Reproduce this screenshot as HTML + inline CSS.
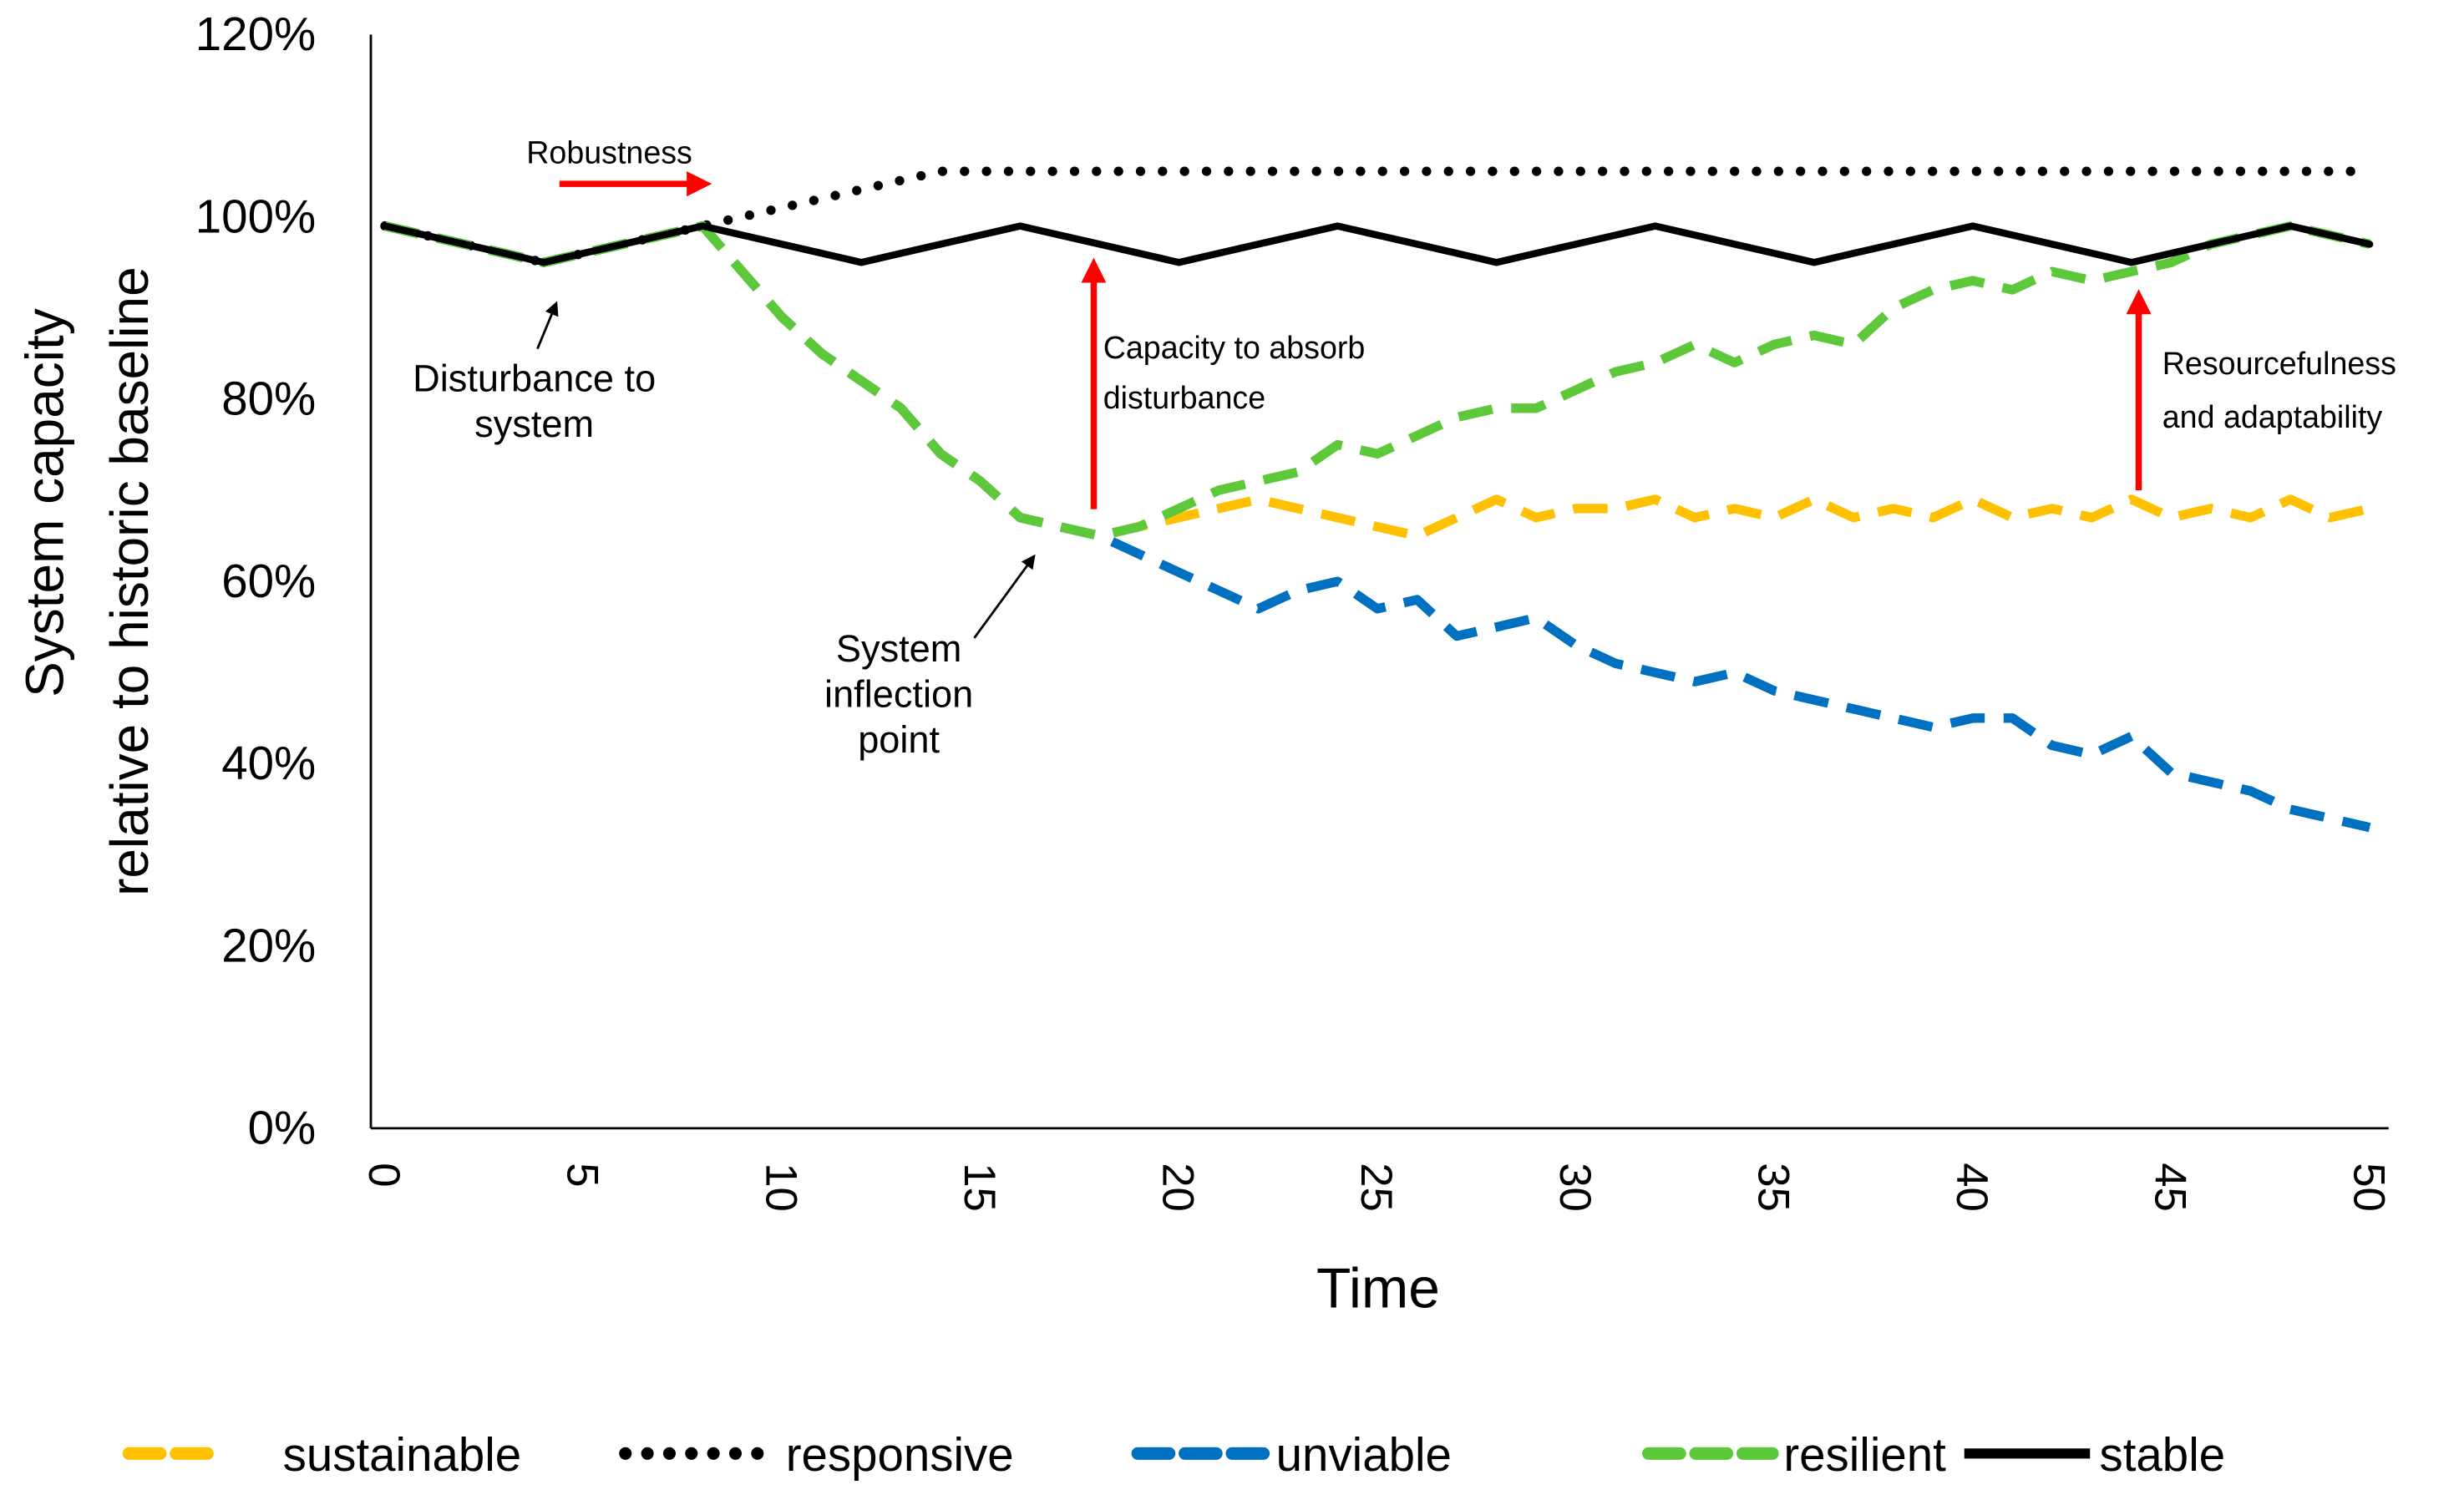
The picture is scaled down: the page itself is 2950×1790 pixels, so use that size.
<!DOCTYPE html>
<html><head><meta charset="utf-8"><style>
html,body{margin:0;padding:0;background:#fff;}
svg{display:block;font-family:"Liberation Sans",sans-serif;}
</style></head><body>
<svg id="chart" width="2950" height="1790" viewBox="0 0 1568 951.4" xmlns="http://www.w3.org/2000/svg">
<defs>
<marker id="redHead" markerWidth="4" markerHeight="4" refX="2" refY="2" orient="auto" markerUnits="strokeWidth"><path d="M0,0 L4,2 L0,4 z" fill="#ff0000"/></marker>
<marker id="blkHead" markerWidth="6" markerHeight="6" refX="5" refY="3" orient="auto" markerUnits="strokeWidth"><path d="M0,0 L6,3 L0,6 z" fill="#000"/></marker>
</defs>
<g id="axes"></g>
<g id="series"></g>
<g id="annotations">
<text x="335" y="104" font-size="20">Robustness</text>
<line x1="356" y1="117" x2="445" y2="117" stroke="#ff0000" stroke-width="4" marker-end="url(#redHead)"/>
<text font-size="24" text-anchor="middle"><tspan x="340" y="249">Disturbance to</tspan><tspan x="340" y="278">system</tspan></text>
<line x1="342" y1="222" x2="354" y2="193" stroke="#000" stroke-width="1.5" marker-end="url(#blkHead)"/>
<text font-size="20"><tspan x="702" y="228">Capacity to absorb</tspan><tspan x="702" y="260">disturbance</tspan></text>
<line x1="696" y1="324" x2="696" y2="172" stroke="#ff0000" stroke-width="4" marker-end="url(#redHead)"/>
<text font-size="20"><tspan x="1376" y="238">Resourcefulness</tspan><tspan x="1376" y="272">and adaptability</tspan></text>
<line x1="1361" y1="312" x2="1361" y2="192" stroke="#ff0000" stroke-width="4" marker-end="url(#redHead)"/>
<text font-size="24" text-anchor="middle"><tspan x="572" y="421">System</tspan><tspan x="572" y="450">inflection</tspan><tspan x="572" y="479">point</tspan></text>
<line x1="620" y1="406" x2="658" y2="354" stroke="#000" stroke-width="1.5" marker-end="url(#blkHead)"/>
</g>
<g id="legend"></g>
</svg>
<script>
const timeSteps = Array.from({length:51},(_,i)=>i);
const yTicks = [0,20,40,60,80,100,120];
const xTicks = [0,5,10,15,20,25,30,35,40,45,50];
const stable = [99,98,97,96,95,96,97,98,99,98,97,96,95,96,97,98,99,98,97,96,95,96,97,98,99,98,97,96,95,96,97,98,99,98,97,96,95,96,97,98,99,98,97,96,95,96,97,98,99,98,97];
const responsive = [99,98,97,96,95,96,97,98,99,100,101,102,103,104,105,105,105,105,105,105,105,105,105,105,105,105,105,105,105,105,105,105,105,105,105,105,105,105,105,105,105,105,105,105,105,105,105,105,105,105,105];
const unviable = [99,98,97,96,95,96,97,98,99,94,89,85,82,79,74,71,67,66,65,63,61,59,57,59,60,57,58,54,55,56,53,51,50,49,50,48,47,46,45,44,45,45,42,41,43,39,38,37,35,34,33];
const sustainable = [99,98,97,96,95,96,97,98,99,94,89,85,82,79,74,71,67,66,65,66,67,68,69,68,67,66,65,67,69,67,68,68,69,67,68,67,69,67,68,67,69,67,68,67,69,67,68,67,69,67,68];
const resilient = [99,98,97,96,95,96,97,98,99,94,89,85,82,79,74,71,67,66,65,66,68,70,71,72,75,74,76,78,79,79,81,83,84,86,84,86,87,86,90,92,93,92,94,93,94,95,97,98,99,98,97];

const NS="http://www.w3.org/2000/svg";
const X0=245, XW=25.26, Y0=718, YS=5.8;
const xs=t=>X0+t*XW, ys=v=>Y0-v*YS;
function mk(tag,attrs,parent){const e=document.createElementNS(NS,tag);for(const k in attrs)e.setAttribute(k,attrs[k]);parent.appendChild(e);return e;}
const axes=document.getElementById('axes');
let el=mk('line',{x1:236,y1:22,x2:236,y2:718,stroke:'#000','stroke-width':1.5},axes);


el=mk('line',{x1:236,y1:718,x2:1520,y2:718,stroke:'#000','stroke-width':1.5},axes);


yTicks.forEach(v=>{
  const t=mk('text',{x:201,y:ys(v)+10,'font-size':30,'text-anchor':'end'},axes);t.textContent=v+'%';
  
  
});
xTicks.forEach(v=>{
  const t=mk('text',{x:0,y:0,'font-size':28,transform:`translate(${xs(v)-10},740) rotate(90)`},axes);t.textContent=v;
  
  
});
el=mk('text',{x:877,y:832,'font-size':36,'text-anchor':'middle'},axes);el.textContent='Time';


el=mk('text',{x:0,y:0,'font-size':34,'text-anchor':'middle',transform:'translate(40,320) rotate(-90)'},axes);el.textContent='System capacity';


el=mk('text',{x:0,y:0,'font-size':34,'text-anchor':'middle',transform:'translate(94,370) rotate(-90)'},axes);el.textContent='relative to historic baseline';



const styles={
 sustainable:{stroke:'#ffc000',w:6,dash:'22 12',cap:'butt'},
 responsive:{stroke:'#000',w:6,dash:'0 14',cap:'round'},
 unviable:{stroke:'#0070c0',w:6,dash:'22 12',cap:'butt'},
 resilient:{stroke:'#5dc93a',w:6,dash:'22 12',cap:'butt'},
 stable:{stroke:'#000',w:4.5,dash:'',cap:'round'}
};
const seriesData={sustainable,responsive,unviable,resilient,stable};
const sg=document.getElementById('series');
for(const name of ['sustainable','responsive','unviable','resilient','stable']){
  const d=seriesData[name].map((v,i)=>(i?'L':'M')+xs(timeSteps[i]).toFixed(1)+','+ys(v).toFixed(1)).join(' ');
  const s=styles[name];
  const p=mk('path',{d,fill:'none',stroke:s.stroke,'stroke-width':s.w,'stroke-dasharray':s.dash,'stroke-linecap':s.cap,'stroke-linejoin':'round'},sg);
  
  
}
const lg=document.getElementById('legend');
const legendItems=[['sustainable',82,141,180],['responsive',398,490,500],['unviable',724,804,812],['resilient',1049,1128,1135],['stable',1250,1330,1336]];
legendItems.forEach(([n,a,b,tx])=>{
  const s=styles[n];
  const dash = n==='responsive' ? '0 14' : (n==='stable' ? '' : '20 10');
  const cap = n==='stable' ? 'butt' : 'round';
  const l=mk('line',{x1:a,y1:925,x2:b,y2:925,stroke:s.stroke,'stroke-width':s.w+2,'stroke-dasharray':dash,'stroke-linecap':cap},lg);
  
  
  const t=mk('text',{x:tx,y:936,'font-size':30},lg);t.textContent=n;
  
  
});
</script>
</body></html>
